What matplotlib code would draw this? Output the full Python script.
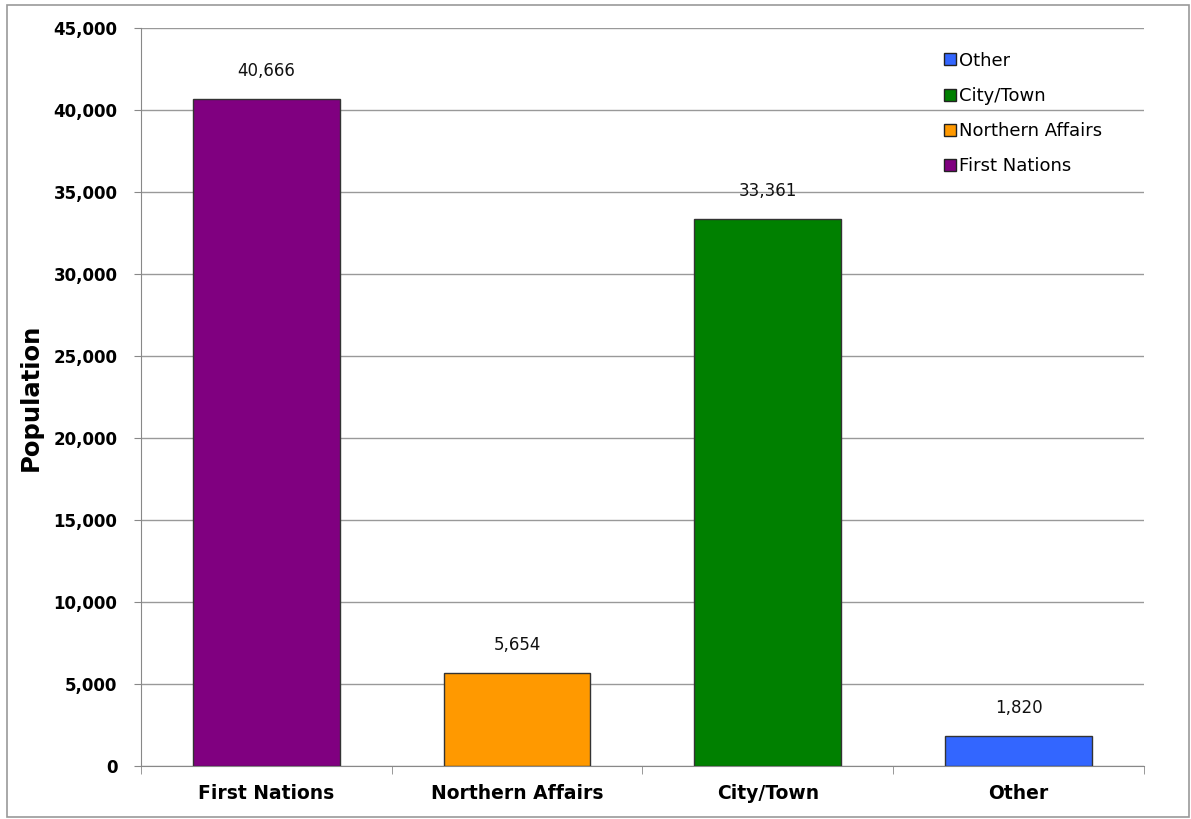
import numpy as np
import matplotlib.pyplot as plt
from matplotlib.ticker import FuncFormatter
from matplotlib.lines import Line2D

categories = ["First Nations", "Northern Affairs", "City/Town", "Other"]
population = [40666, 5654, 33361, 1820]
colors = ["#800080", "#FF9900", "#008000", "#3366FF"]

fig = plt.figure(figsize=(11.91, 8.19), dpi=100)
ax = fig.add_axes([0.1184, 0.0647, 0.842, 0.901])

x = np.arange(len(categories))
bars = ax.bar(x, population, width=0.585, color=colors, edgecolor="#333333",
              linewidth=1.0, zorder=3)

for b, v in zip(bars, population):
    ax.text(b.get_x() + b.get_width() / 2, v + 1150, f"{v:,}",
            ha="center", va="bottom", fontsize=12, color="#111111")

ax.set_xlim(-0.5, len(categories) - 0.5)
ax.set_ylim(0, 45000)
ax.set_yticks(np.arange(0, 45001, 5000))
ax.yaxis.set_major_formatter(FuncFormatter(lambda v, p: f"{int(v):,}"))
ax.yaxis.grid(True, color="#999999", linewidth=1.0, zorder=0)

ax.set_xticks(x)
ax.set_xticklabels(categories, fontsize=13.5, fontweight="bold")
ax.set_xticks(np.arange(-0.5, len(categories)), minor=True)
ax.tick_params(axis="x", which="major", length=0, pad=13)
ax.tick_params(axis="x", which="minor", length=6, color="#888888", direction="out")
ax.tick_params(axis="y", length=5, color="#888888", labelsize=12, pad=12)
for lab in ax.get_yticklabels():
    lab.set_fontweight("bold")

ax.set_ylabel("Population", fontsize=17.5, fontweight="bold", labelpad=8)

for s in ["top", "right"]:
    ax.spines[s].set_visible(False)
for s in ["left", "bottom"]:
    ax.spines[s].set_color("#888888")

handles = [Line2D([], [], marker="s", linestyle="none", markersize=9,
                  markerfacecolor=c, markeredgecolor="#222222")
           for c in colors]
leg = ax.legend(handles[::-1], categories[::-1], loc="upper right",
                bbox_to_anchor=(0.975, 0.99), frameon=False, fontsize=13,
                handletextpad=0.1, labelspacing=0.95, handlelength=0.8)

fig.patches.append(plt.Rectangle((0.006, 0.002), 0.992, 0.992, transform=fig.transFigure,
                                 fill=False, edgecolor="#999999", linewidth=1.2))

fig.savefig("out.png", dpi=100)
